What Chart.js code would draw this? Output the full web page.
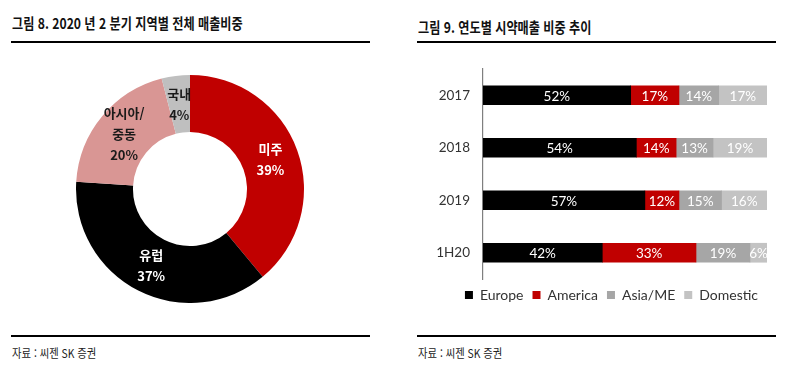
<!DOCTYPE html>
<html lang="ko">
<head>
    <meta charset="UTF-8">
    <title>씨젠 지역별 매출비중</title>
    <script src="https://cdn.jsdelivr.net/npm/chart.js"></script>
    <style>
        body {
            margin: 0;
            width: 785px;
            height: 374px;
            position: relative;
            background: #fff;
            overflow: hidden;
            font-family: "Noto Sans CJK KR", sans-serif;
        }
        .title {
            position: absolute;
            font-size: 15px;
            font-weight: bold;
            color: #111;
            white-space: nowrap;
            transform: scaleX(0.81);
            transform-origin: left center;
            line-height: 18px;
        }
        .rule {
            position: absolute;
            height: 2px;
            background: #000;
        }
        .source {
            position: absolute;
            font-size: 12px;
            color: #222;
            white-space: nowrap;
            transform: scaleX(0.86);
            transform-origin: left center;
            line-height: 14px;
        }
        canvas { position: absolute; }
    </style>
</head>
<body>
    <div class="title" style="left:12px; top:14px;">그림 8. 2020 년 2 분기 지역별 전체 매출비중</div>
    <div class="rule" style="left:11px; top:41px; width:359px;"></div>
    <div class="title" style="left:418px; top:18px;">그림 9. 연도별 시약매출 비중 추이</div>
    <div class="rule" style="left:417px; top:41px; width:359px;"></div>

    <canvas id="pie-chart" width="260" height="228" style="left:60px; top:75px;"></canvas>
    <canvas id="bar-chart" width="360" height="252" style="left:417px; top:60px;"></canvas>

    <div class="rule" style="left:11px; top:335px; width:359px;"></div>
    <div class="source" style="left:12px; top:346px;">자료 : 씨젠 SK 증권</div>
    <div class="rule" style="left:417px; top:335px; width:359px;"></div>
    <div class="source" style="left:418px; top:346px;">자료 : 씨젠 SK 증권</div>

    <script>
        // 그림 8 - 2Q20 region share
        const regions = ['미주', '유럽', '아시아/중동', '국내'];
        const regionShare = [39, 37, 20, 4];
        const regionColors = ['#C00000', '#000000', '#D99694', '#BFBFBF'];
        const regionTextColors = ['#ffffff', '#ffffff', '#1a1a1a', '#1a1a1a'];

        // 그림 9 - yearly reagent sales mix
        const years = ['2017', '2018', '2019', '1H20'];
        const europe = [52, 54, 57, 42];
        const america = [17, 14, 12, 33];
        const asiaMe = [14, 13, 15, 19];
        const domestic = [17, 19, 16, 6];

        const pieLabels = {
            id: 'pieLabels',
            afterDatasetsDraw(chart) {
                const ctx = chart.ctx;
                ctx.save();
                ctx.font = 'bold 13px "Noto Sans CJK KR"';
                ctx.textAlign = 'center';
                ctx.textBaseline = 'middle';
                chart.getDatasetMeta(0).data.forEach((arc, i) => {
                    const p = arc.getCenterPoint();
                    // break after the slash like the original
                    const name = regions[i].replace('/', '/\n').split('\n');
                    const lines = name.concat(regionShare[i] + '%');
                    const lh = 21;
                    const y0 = p.y - (lines.length - 1) * lh / 2;
                    ctx.fillStyle = regionTextColors[i];
                    lines.forEach((t, k) => ctx.fillText(t, p.x, y0 + k * lh));
                });
                ctx.restore();
            }
        };

        new Chart(document.getElementById('pie-chart').getContext('2d'), {
            type: 'doughnut',
            data: {
                labels: regions,
                datasets: [{
                    data: regionShare,
                    backgroundColor: regionColors,
                    borderWidth: 0
                }]
            },
            options: {
                responsive: false,
                animation: false,
                cutout: '50%',
                layout: { padding: 0 },
                plugins: {
                    legend: { display: false },
                    tooltip: { enabled: false }
                }
            },
            plugins: [pieLabels]
        });

        const barLabels = {
            id: 'barLabels',
            afterDatasetsDraw(chart) {
                const ctx = chart.ctx;
                ctx.save();
                ctx.font = '13.5px Lato';
                ctx.textAlign = 'center';
                ctx.textBaseline = 'middle';
                ctx.fillStyle = '#ffffff';
                chart.data.datasets.forEach((ds, di) => {
                    chart.getDatasetMeta(di).data.forEach((bar, i) => {
                        const p = bar.getCenterPoint();
                        ctx.fillText(ds.data[i] + '%', p.x, p.y + 1);
                    });
                });
                ctx.restore();
            }
        };

        new Chart(document.getElementById('bar-chart').getContext('2d'), {
            type: 'bar',
            data: {
                labels: years,
                datasets: [
                    { label: 'Europe', data: europe, backgroundColor: '#000000' },
                    { label: 'America', data: america, backgroundColor: '#C00000' },
                    { label: 'Asia/ME', data: asiaMe, backgroundColor: '#A6A6A6' },
                    { label: 'Domestic', data: domestic, backgroundColor: '#C3C3C3' }
                ]
            },
            options: {
                indexAxis: 'y',
                responsive: false,
                animation: false,
                barThickness: 19,
                layout: { padding: { left: 0, right: 10, top: 9, bottom: 0 } },
                scales: {
                    x: { stacked: true, min: 0, max: 100, display: false },
                    y: {
                        stacked: true,
                        afterFit: s => {
                            s.width = 66;
                            s.paddingTop = 0;
                            s.paddingBottom = 0;
                        },
                        grid: { display: false, drawTicks: false },
                        border: { display: true, color: '#7F7F7F', width: 1.2 },
                        ticks: {
                            padding: 13,
                            color: '#333333',
                            font: { family: 'Lato', size: 13.5 }
                        }
                    }
                },
                plugins: {
                    legend: {
                        position: 'bottom',
                        align: 'end',
                        labels: {
                            boxWidth: 8,
                            boxHeight: 8,
                            padding: 9,
                            color: '#333333',
                            font: { family: 'Lato', size: 14 }
                        }
                    },
                    tooltip: { enabled: false }
                }
            },
            plugins: [barLabels]
        });
    </script>
</body>
</html>
